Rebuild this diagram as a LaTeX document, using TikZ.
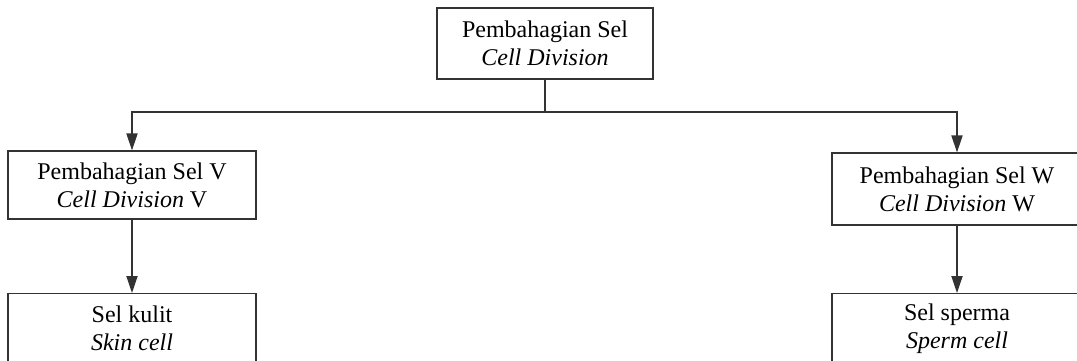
\documentclass[tikz,border=0pt]{standalone}
\usepackage{fontspec}
\setmainfont{Liberation Serif}
\usetikzlibrary{arrows.meta}

\begin{document}
\begin{tikzpicture}[x=0.5pt,y=-0.5pt,
    box/.style={draw=black!80, line width=0.6pt, align=center, inner sep=0pt,
        font=\fontsize{12}{14}\selectfont},
    link/.style={draw=black!80, line width=0.6pt},
    arr/.style={link, -{Triangle[length=8.5pt,width=5.6pt]}}]
\useasboundingbox (0,0) rectangle (1077,360);
\clip (0,0) rectangle (1077,360);

\node[box, minimum width=108pt, minimum height=35.5pt] (sel) at (545,43.5)
    {Pembahagian Sel\\\textit{Cell Division}};
\node[box, minimum width=124pt, minimum height=34pt] (selV) at (132,185)
    {Pembahagian Sel V\\\textit{Cell Division} V};
\node[box, minimum width=125pt, minimum height=36pt] (selW) at (957,189)
    {Pembahagian Sel W\\\textit{Cell Division} W};
\node[box, minimum width=124pt, minimum height=35pt, anchor=north] (kulit) at (132,293)
    {Sel kulit\\\textit{Skin cell}};
\node[box, minimum width=125pt, minimum height=35pt, anchor=north] (sperma) at (957,293)
    {Sel sperma\\\textit{Sperm cell}};

\coordinate (split) at (545,112);
\draw[link] (sel) -- (split);
\draw[arr] (split) -| (selV);
\draw[arr] (split) -| (selW);
\draw[arr] (selV) -- (kulit);
\draw[arr] (selW) -- (sperma);
\end{tikzpicture}
\end{document}
